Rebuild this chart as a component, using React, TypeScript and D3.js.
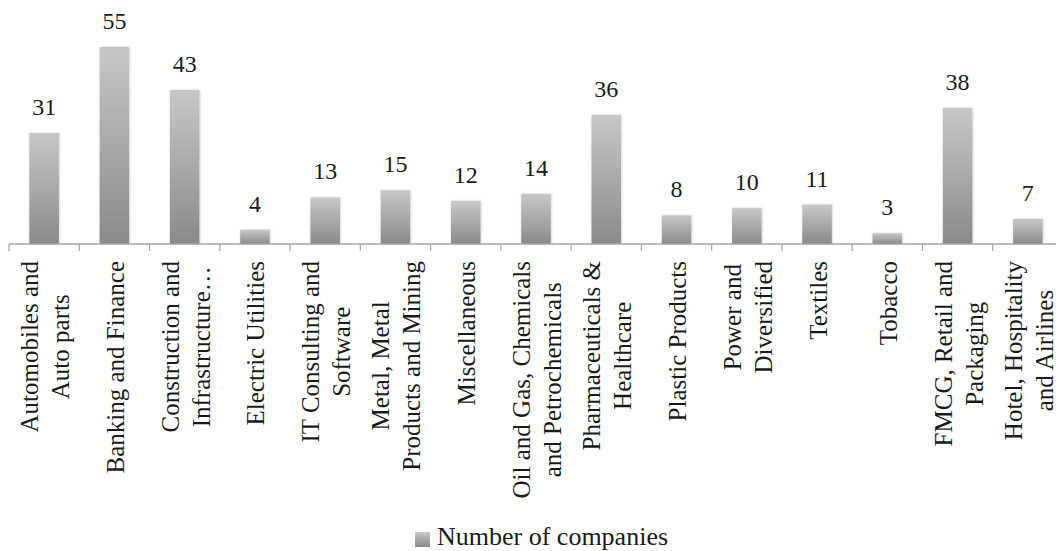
import * as d3 from "d3";
import React, { useEffect, useRef } from "react";

// categories as they wrap in the reference (one entry per line)
const categories: string[][] = [
  ["Automobiles and", "Auto parts"],
  ["Banking and Finance"],
  ["Construction and", "Infrastructure…"],
  ["Electric Utilities"],
  ["IT Consulting and", "Software"],
  ["Metal, Metal", "Products and Mining"],
  ["Miscellaneous"],
  ["Oil and Gas, Chemicals", "and Petrochemicals"],
  ["Pharmaceuticals &", "Healthcare"],
  ["Plastic Products"],
  ["Power and", "Diversified"],
  ["Textiles"],
  ["Tobacco"],
  ["FMCG, Retail and", "Packaging"],
  ["Hotel, Hospitality", "and Airlines"],
];

const companies: number[] = [31, 55, 43, 4, 13, 15, 12, 14, 36, 8, 10, 11, 3, 38, 7];

const seriesName = "Number of companies";

const App: React.FC = () => {
  const svgRef = useRef<SVGSVGElement | null>(null);

  useEffect(() => {
    if (!svgRef.current) return;

    const width = 1056;
    const height = 551;
    const axisY = 244;
    const left = 9;
    const right = 1063; // axis runs past the right edge, like the reference
    const font = "'Liberation Serif', 'Times New Roman', serif";

    const svg = d3.select(svgRef.current);
    svg.selectAll("*").remove();

    const defs = svg.append("defs");
    const grad = defs
      .append("linearGradient")
      .attr("id", "barGrad")
      .attr("x1", 0)
      .attr("y1", 0)
      .attr("x2", 0)
      .attr("y2", 1);
    grad.append("stop").attr("offset", "0%").attr("stop-color", "#c8c8c8");
    grad.append("stop").attr("offset", "100%").attr("stop-color", "#8a8a8a");

    const shadow = defs
      .append("filter")
      .attr("id", "barShadow")
      .attr("x", "-30%")
      .attr("y", "-10%")
      .attr("width", "160%")
      .attr("height", "120%");
    shadow
      .append("feDropShadow")
      .attr("dx", 0.5)
      .attr("dy", 0)
      .attr("stdDeviation", 1.3)
      .attr("flood-color", "#000")
      .attr("flood-opacity", 0.22);

    const idx = d3.range(companies.length).map(String);

    const x = d3.scaleBand<string>().domain(idx).range([left, right]).paddingInner(0.58).paddingOuter(0.29);
    const bandX = d3.scaleBand<string>().domain(idx).range([left, right]);

    const y = d3.scaleLinear().domain([0, 55]).range([axisY, 47]);

    // bars
    svg
      .append("g")
      .attr("filter", "url(#barShadow)")
      .selectAll("rect")
      .data(companies)
      .join("rect")
      .attr("x", (_, i) => x(String(i))!)
      .attr("y", (d) => y(d))
      .attr("width", x.bandwidth())
      .attr("height", (d) => axisY - y(d))
      .attr("fill", "url(#barGrad)");

    // value labels
    svg
      .append("g")
      .attr("font-family", font)
      .attr("font-size", 24)
      .attr("fill", "#1a1a1a")
      .attr("text-anchor", "middle")
      .selectAll("text")
      .data(companies)
      .join("text")
      .attr("x", (_, i) => x(String(i))! + x.bandwidth() / 2)
      .attr("y", (d) => y(d) - 18)
      .text((d) => d);

    // category axis
    const axis = svg.append("g").attr("stroke", "#a6a6a6").attr("stroke-width", 1.3);
    axis.append("line").attr("x1", left).attr("x2", right).attr("y1", axisY).attr("y2", axisY);
    axis
      .selectAll("line.tick")
      .data([...idx.map((k) => bandX(k)!), right])
      .join("line")
      .attr("class", "tick")
      .attr("x1", (d) => d)
      .attr("x2", (d) => d)
      .attr("y1", axisY)
      .attr("y2", axisY + 7);

    // rotated category labels: lines centred on each other, block top at labelTop
    const lineGap = 31;
    const labelTop = 261;
    const labels = svg
      .append("g")
      .attr("font-family", font)
      .attr("font-size", 25)
      .attr("fill", "#1a1a1a")
      .attr("text-anchor", "middle")
      .selectAll("g")
      .data(categories)
      .join("g")
      .attr("transform", (_, i) => {
        const cx = bandX(String(i))! + bandX.bandwidth() / 2;
        return `translate(${cx},${labelTop}) rotate(-90)`;
      });
    labels.each(function (lines) {
      const g = d3.select(this);
      const texts = g
        .selectAll("text")
        .data(lines.map((t, j) => ({ t, j, n: lines.length })))
        .join("text")
        .attr("y", (d) => 9.5 + (d.j - (d.n - 1) / 2) * lineGap)
        .text((d) => d.t);
      let maxLen = 0;
      texts.each(function () {
        maxLen = Math.max(maxLen, (this as SVGTextElement).getComputedTextLength());
      });
      texts.attr("x", -maxLen / 2);
    });

    // legend
    const legend = svg.append("g").attr("transform", "translate(415,532)");
    legend.append("rect").attr("width", 15).attr("height", 15).attr("fill", "url(#barGrad)");
    legend
      .append("text")
      .attr("x", 22)
      .attr("y", 13)
      .attr("font-family", font)
      .attr("font-size", 26)
      .attr("fill", "#1a1a1a")
      .text(seriesName);

    svg.attr("viewBox", `0 0 ${width} ${height}`);
  }, []);

  return (
    <svg
      ref={svgRef}
      width={1056}
      height={551}
      style={{ position: "absolute", left: 0, top: 0, display: "block", background: "#fff" }}
    />
  );
};

export default App;
